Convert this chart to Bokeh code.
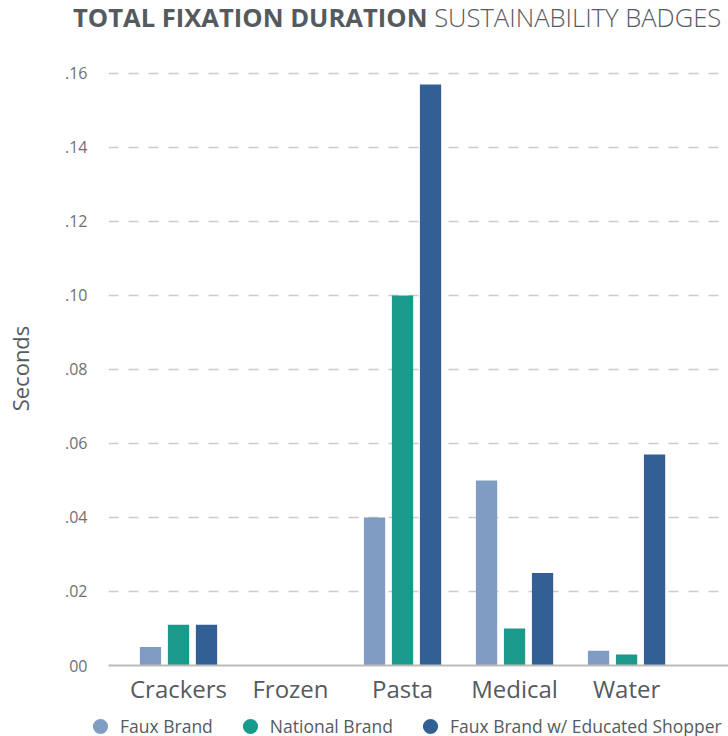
from bokeh.plotting import figure
from bokeh.models import ColumnDataSource, FixedTicker, Legend, LegendItem, Range1d, Div
from bokeh.layouts import column
from bokeh.transform import dodge
from bokeh.embed import file_html
from bokeh.resources import INLINE

categories = ["Crackers", "Frozen", "Pasta", "Medical", "Water"]
faux_brand = [0.005, 0.0, 0.040, 0.050, 0.004]
national_brand = [0.011, 0.0, 0.100, 0.010, 0.003]
faux_educated = [0.011, 0.0, 0.157, 0.025, 0.057]
series_names = ["Faux Brand", "National Brand", "Faux Brand w/ Educated Shopper"]
colors = ["#7f9cc2", "#199a8b", "#326094"]
y_ticks = [0.0, 0.02, 0.04, 0.06, 0.08, 0.10, 0.12, 0.14, 0.16]
y_tick_labels = ["00", ".02", ".04", ".06", ".08", ".10", ".12", ".14", ".16"]
title_bold = "TOTAL FIXATION DURATION"
title_light = "SUSTAINABILITY BADGES"

FONT = "Open Sans"
TEXT = "#555a5f"

xs = list(range(len(categories)))
src = ColumnDataSource(dict(x=xs, faux=faux_brand, nat=national_brand, edu=faux_educated))
fields = ["faux", "nat", "edu"]

title = Div(
    text=f'<span style="font-weight:700">{title_bold}</span> '
         f'<span style="font-weight:300">{title_light}</span>',
    width=728, height=50, margin=0,
    styles={"font-family": "'Open Sans'", "font-size": "25.6px", "color": TEXT,
            "padding-left": "73px", "padding-top": "0px", "white-space": "nowrap",
            "line-height": "normal"},
)

p = figure(width=728, height=657, output_backend="svg", toolbar_location=None,
           x_range=Range1d(-0.625, 4.91), y_range=Range1d(0, 0.16054),
           min_border_left=108, min_border_right=0, min_border_top=21, min_border_bottom=42,
           margin=0)
p.outline_line_color = None
p.background_fill_color = "white"
p.border_fill_color = "white"

offsets = [-0.25, 0.0, 0.25]
for f, off, c in zip(fields, offsets, colors):
    p.vbar(x=dodge("x", off), top=f, width=0.19, source=src, color=c, line_color=None)

# x axis
p.xaxis.ticker = FixedTicker(ticks=xs)
p.xaxis.major_label_overrides = {i: c for i, c in zip(xs, categories)}
p.xaxis.major_label_text_font = FONT
p.xaxis.major_label_text_font_size = "24px"
p.xaxis.major_label_text_color = TEXT
p.xaxis.major_tick_line_color = None
p.xaxis.major_tick_out = 0
p.xaxis.minor_tick_line_color = None
p.xaxis.axis_line_color = "#bbbbbb"
p.xaxis.axis_line_width = 2
p.xaxis.major_label_standoff = 6
p.xgrid.grid_line_color = None

# y axis
p.yaxis.ticker = FixedTicker(ticks=y_ticks)
p.yaxis.major_label_overrides = {t: l for t, l in zip(y_ticks, y_tick_labels)}
p.yaxis.major_label_text_font = FONT
p.yaxis.major_label_text_font_size = "16px"
p.yaxis.major_label_text_color = "#707070"
p.yaxis.major_tick_line_color = None
p.yaxis.major_tick_out = 0
p.yaxis.minor_tick_line_color = None
p.yaxis.axis_line_color = None
p.yaxis.major_label_standoff = 21
p.yaxis.axis_label = "Seconds"
p.yaxis.axis_label_text_font = FONT
p.yaxis.axis_label_text_font_size = "22px"
p.yaxis.axis_label_text_font_style = "normal"
p.yaxis.axis_label_text_color = TEXT
p.yaxis.axis_label_standoff = 27
p.ygrid.grid_line_color = "#cccccc"
p.ygrid.grid_line_width = 1.5
p.ygrid.grid_line_dash = "10 10"

# legend strip (separate figure so nothing is clipped); its glyphs lie outside its view
lg = figure(width=728, height=29, output_backend="svg", toolbar_location=None,
            x_range=Range1d(100, 101), y_range=Range1d(100, 101),
            x_axis_location=None, y_axis_location=None, margin=0,
            min_border_left=0, min_border_right=0, min_border_top=0, min_border_bottom=0)
lg.frame_align = False
lg.outline_line_color = None
lg.xgrid.grid_line_color = None
lg.ygrid.grid_line_color = None
items = []
for name, f, c in zip(series_names, fields, colors):
    r = lg.scatter(x="x", y=f, source=src, marker="circle", size=15, color=c, line_color=None)
    items.append(LegendItem(label=name, renderers=[r]))
legend = Legend(items=items, orientation="horizontal", location=(81, -9),
                label_text_font=FONT, label_text_font_size="17.5px", label_text_color=TEXT,
                glyph_width=38, glyph_height=38, label_height=20, label_standoff=1, spacing=18,
                padding=0, margin=0, border_line_color=None, background_fill_alpha=0)
lg.add_layout(legend, "center")

layout = column(title, p, lg, spacing=0, margin=0)
open("out.html", "w").write(file_html(layout, INLINE))
